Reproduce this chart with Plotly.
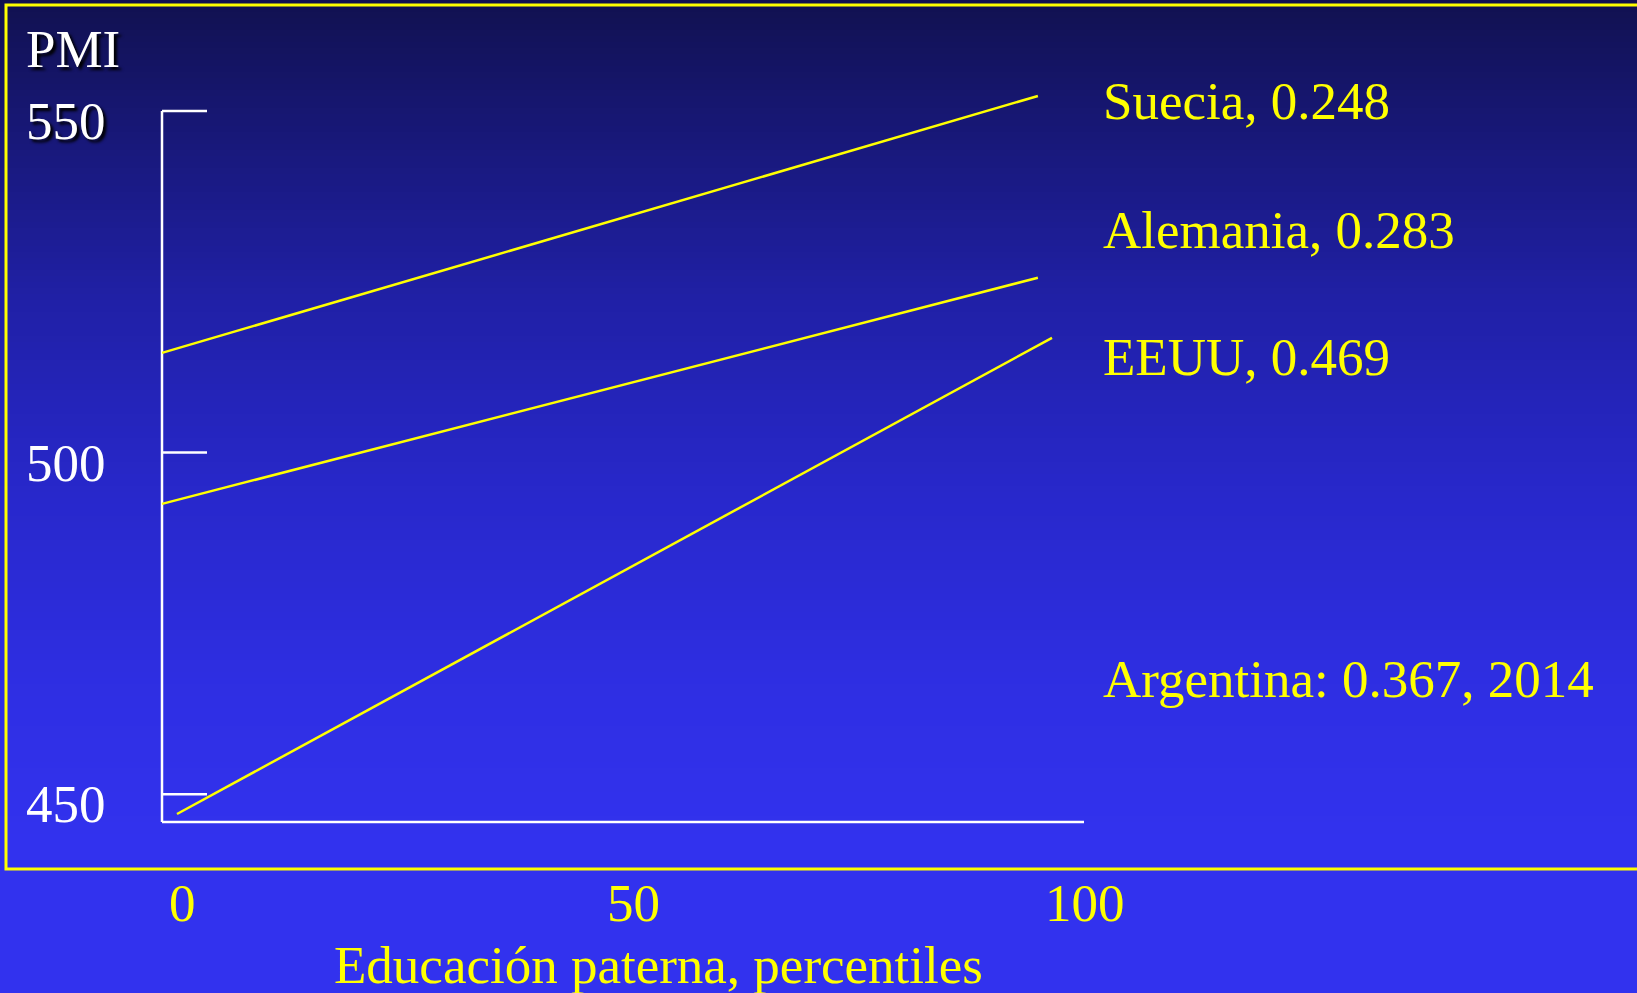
import plotly.graph_objects as go

W, H = 1637, 993

# ---------------- data ----------------
series_names = ["Suecia", "Alemania", "EEUU"]
x_start = [-2.0, -2.0, -0.34]
x_end = [95.0, 95.0, 96.56]
y_start = [514.6, 492.5, 447.1]
y_end = [552.2, 525.6, 516.8]

label_texts = ["Suecia, 0.248", "Alemania, 0.283", "EEUU, 0.469", "Argentina: 0.367, 2014"]
label_y = [551.5, 532.6, 514.0, 466.9]
label_x = 102.0

x_ticks = [0, 50, 100]
x_tick_labels = ["0", "50", "100"]
y_ticks = [450, 500, 550]
y_tick_labels = ["450", "500", "550"]

y_title = "PMI"
x_title = "Educación paterna, percentiles"

# ---------------- layout geometry ----------------
AX_L_PX, AX_R_PX, AX_T_PX, AX_B_PX = 162, 1084, 111, 822
TICK_END_PX = 207
PX_PER_X = 9.03
X_AT_AX_L = -2.0
PX_PER_Y = 6.832
Y_AT_AX_T = 550.0


def px_to_x(px):
    return X_AT_AX_L + (px - AX_L_PX) / PX_PER_X


def px_to_y(py):
    return Y_AT_AX_T - (py - AX_T_PX) / PX_PER_Y


xrange = [px_to_x(0), px_to_x(W)]
yrange = [px_to_y(H), px_to_y(0)]

FONT = "Liberation Serif, Times New Roman, serif"
YELLOW = "#FFFF00"
WHITE = "#FFFFFF"
FS = 53

fig = go.Figure()

for i, name in enumerate(series_names):
    fig.add_trace(go.Scatter(
        x=[x_start[i], x_end[i]], y=[y_start[i], y_end[i]],
        mode="lines", name=name,
        line=dict(color=YELLOW, width=2.5),
        hoverinfo="skip", showlegend=False,
    ))

shapes = []
# background gradient bands
stops = [(0, (17, 17, 80)), (100, (22, 22, 110)), (300, (32, 32, 166)),
         (500, (40, 40, 204)), (700, (47, 47, 228)), (840, (50, 50, 238))]


def col_at(py):
    for (p0, c0), (p1, c1) in zip(stops[:-1], stops[1:]):
        if p0 <= py <= p1:
            t = (py - p0) / (p1 - p0)
            return tuple(round(a + (b - a) * t) for a, b in zip(c0, c1))
    return stops[-1][1]


band = 6
for py in range(0, 840, band):
    c = col_at(py + band / 2)
    shapes.append(dict(type="rect", xref="paper", yref="paper",
                       x0=0, x1=1, y0=1 - (py + band + 0.5) / H, y1=1 - py / H,
                       fillcolor="rgb(%d,%d,%d)" % c, line=dict(width=0), layer="below"))

# yellow frame
shapes.append(dict(type="rect", xref="paper", yref="paper",
                   x0=6 / W, x1=1.02, y0=1 - 869 / H, y1=1 - 5 / H,
                   line=dict(color=YELLOW, width=3), fillcolor="rgba(0,0,0,0)", layer="below"))

# axes (white L) and ticks
y_bottom = px_to_y(AX_B_PX)
shapes.append(dict(type="line", xref="x", yref="y", x0=X_AT_AX_L, x1=X_AT_AX_L,
                   y0=y_bottom, y1=max(y_ticks), line=dict(color=WHITE, width=2.5), layer="below"))
shapes.append(dict(type="line", xref="x", yref="y", x0=X_AT_AX_L, x1=px_to_x(AX_R_PX),
                   y0=y_bottom, y1=y_bottom, line=dict(color=WHITE, width=2.5), layer="below"))
for v in y_ticks:
    shapes.append(dict(type="line", xref="x", yref="y", x0=X_AT_AX_L, x1=px_to_x(TICK_END_PX),
                       y0=v, y1=v, line=dict(color=WHITE, width=2.5), layer="below"))

annotations = []
for t, yv in zip(label_texts, label_y):
    annotations.append(dict(x=label_x, y=yv, xref="x", yref="y", text=t, showarrow=False,
                            xanchor="left", yanchor="middle",
                            font=dict(family=FONT, size=FS, color=YELLOW)))
for v, t in zip(y_ticks, y_tick_labels):
    f = dict(family=FONT, size=FS, color=WHITE)
    if v == max(y_ticks):
        f["shadow"] = "3px 3px 3px #000000"
    annotations.append(dict(x=px_to_x(108), y=v, xref="x", yref="y", text=t, showarrow=False,
                            xanchor="right", yanchor="middle", yshift=-10, font=f))
for v, t in zip(x_ticks, x_tick_labels):
    annotations.append(dict(x=v, y=px_to_y(903), xref="x", yref="y", text=t, showarrow=False,
                            xanchor="center", yanchor="middle", xshift=2,
                            font=dict(family=FONT, size=FS, color=YELLOW)))
annotations.append(dict(x=24 / W, y=1 - 49 / H, xref="paper", yref="paper", text=y_title,
                        showarrow=False, xanchor="left", yanchor="middle",
                        font=dict(family=FONT, size=FS, color=WHITE, shadow="3px 3px 3px #000000")))
annotations.append(dict(x=658 / W, y=1 - 965 / H, xref="paper", yref="paper", text=x_title,
                        showarrow=False, xanchor="center", yanchor="middle",
                        font=dict(family=FONT, size=FS, color=YELLOW)))

fig.update_layout(
    width=W, height=H,
    margin=dict(l=0, r=0, t=0, b=0),
    paper_bgcolor="rgb(50,50,238)",
    plot_bgcolor="rgba(0,0,0,0)",
    xaxis=dict(range=xrange, visible=False, fixedrange=True),
    yaxis=dict(range=yrange, visible=False, fixedrange=True),
    shapes=shapes,
    annotations=annotations,
    showlegend=False,
)

fig.write_html("out.html", config={"displayModeBar": False})
